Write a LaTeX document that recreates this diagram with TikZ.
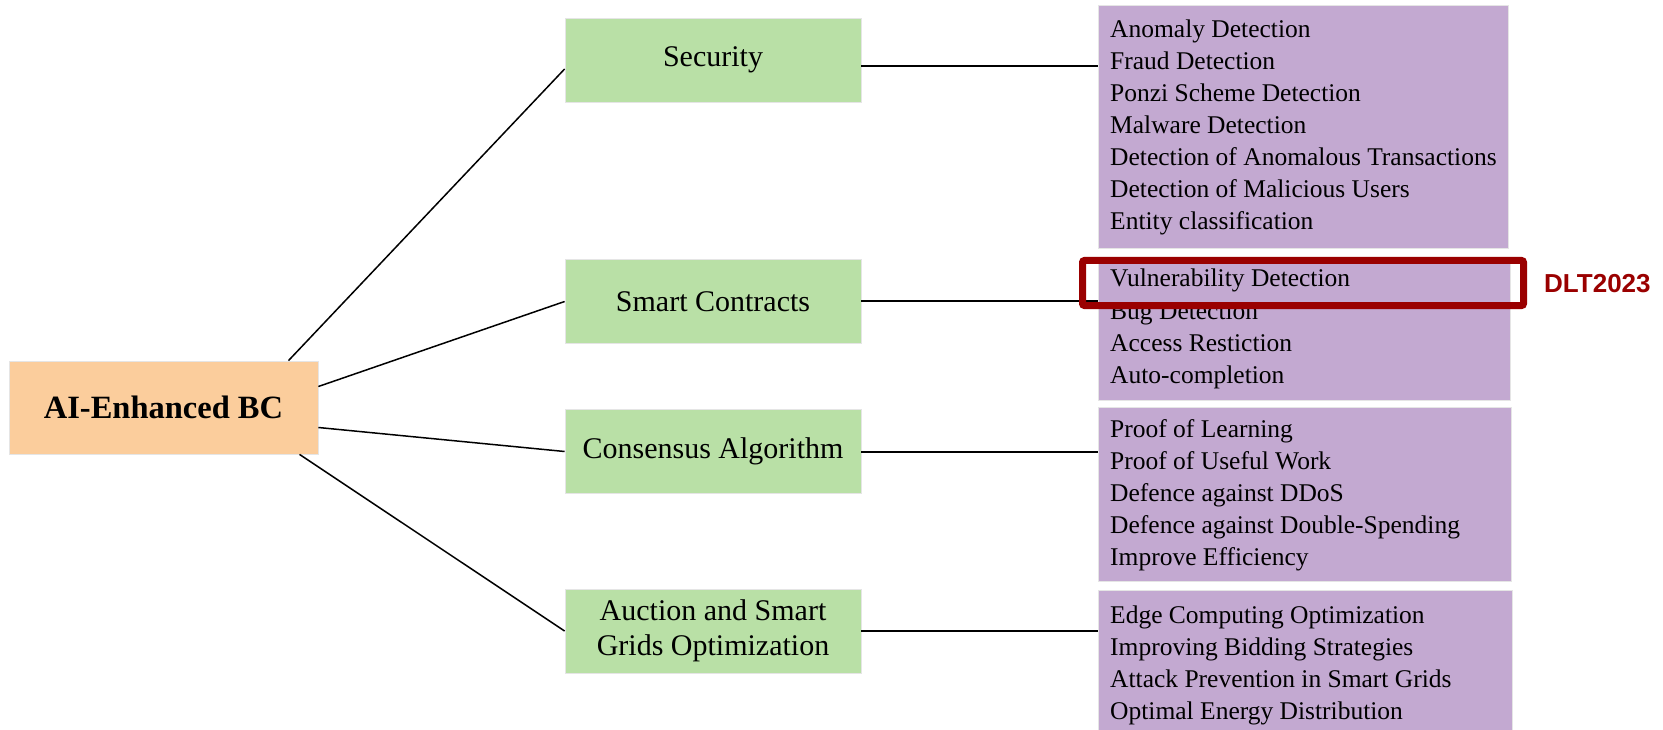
\documentclass[tikz,border=0pt]{standalone}
\usepackage{fontspec}
\setmainfont{Liberation Serif}
\newfontfamily\dltfont{Liberation Sans}
\definecolor{rootc}{RGB}{251,205,156}
\definecolor{catc}{RGB}{185,224,166}
\definecolor{itemc}{RGB}{195,169,209}
\definecolor{hlc}{RGB}{154,0,0}
\begin{document}
\begin{tikzpicture}[x=1pt,y=-1pt,
  rootbox/.style={fill=rootc, draw=black!10, line width=0.8pt, minimum width=309pt, minimum height=93pt, inner sep=0pt, font=\fontsize{32.5}{38}\selectfont\bfseries},
  catbox/.style={fill=catc, draw=black!10, line width=0.8pt, minimum width=296pt, minimum height=84pt, inner sep=0pt, align=center, font=\fontsize{30}{35}\selectfont},
  itembox/.style={fill=itemc, draw=black!10, line width=0.8pt, inner sep=0pt, anchor=north west},
  itemtxt/.style={anchor=base west, inner sep=0pt, font=\fontsize{25.5}{32}\selectfont},
  link/.style={line width=1.5pt, black},
  hl/.style={draw=hlc, line width=7pt, rounded corners=2pt, inner sep=0pt}
]
\useasboundingbox (0,0) rectangle (1663,730);
\fill[white] (0,0) rectangle (1663,730);

% root and categories
\node[rootbox] (root) at (163.5,407.5) {AI-Enhanced BC};
\node[catbox] (sec) at (713,60) {Security};
\node[catbox] (sm) at (713,301.5) {Smart Contracts};
\node[catbox] (con) at (713,451.5) {Consensus Algorithm};
\node[catbox] (auc) at (713,631) {Auction and Smart\\Grids Optimization};

% item boxes
\node[itembox, minimum width=410pt, minimum height=243pt] (p1) at (1098,5) {};
\node[itembox, minimum width=412pt, minimum height=143pt] (p2) at (1098,257) {};
\node[itembox, minimum width=413pt, minimum height=174pt] (p3) at (1098,407) {};
\node[itembox, minimum width=414pt, minimum height=145pt] (p4) at (1098,590) {};

\foreach \t [count=\i] in {Anomaly Detection, Fraud Detection, Ponzi Scheme Detection, Malware Detection, Detection of Anomalous Transactions, Detection of Malicious Users, Entity classification}
  \node[itemtxt] (a\i) at (1110,{38+32*(\i-1)}) {\t};
\foreach \t [count=\i] in {Vulnerability Detection, Bug Detection, Access Restiction, Auto-completion}
  \node[itemtxt] (b\i) at (1110,{287+32*(\i-1)}) {\t};
\foreach \t [count=\i] in {Proof of Learning, Proof of Useful Work, Defence against DDoS, Defence against Double-Spending, Improve Efficiency}
  \node[itemtxt] (c\i) at (1110,{437+32*(\i-1)}) {\t};
\foreach \t [count=\i] in {Edge Computing Optimization, Improving Bidding Strategies, Attack Prevention in Smart Grids, Optimal Energy Distribution}
  \node[itemtxt] (d\i) at (1110,{623+32*(\i-1)}) {\t};

% connectors root -> categories
\draw[link] ([xshift=125pt]root.north) -- ([yshift=-9pt]sec.west);
\draw[link] ([yshift=21pt]root.east) -- (sm.west);
\draw[link] ([yshift=-20pt]root.east) -- (con.west);
\draw[link] ([xshift=136pt]root.south) -- (auc.west);

% connectors categories -> items
\draw[link, line width=1.8pt] ([yshift=-6pt]sec.east) -- ([yshift=-6pt]sec.east -| p1.west);
\draw[link, line width=1.8pt] ([yshift=0.5pt]sm.east) -- ([yshift=0.5pt]sm.east -| p2.west);
\draw[link, line width=1.8pt] ([yshift=-0.5pt]con.east) -- ([yshift=-0.5pt]con.east -| p3.west);
\draw[link, line width=1.8pt] (auc.east) -- (auc.east -| p4.west);

% highlight
\node[hl, minimum width=441pt, minimum height=45pt] (hlbox) at (1303,283) {};
\node[anchor=base west, inner sep=0pt, text=hlc, font=\dltfont\fontsize{26}{30}\selectfont\bfseries] (dlt) at (1544,292) {DLT2023};
\end{tikzpicture}
\end{document}
